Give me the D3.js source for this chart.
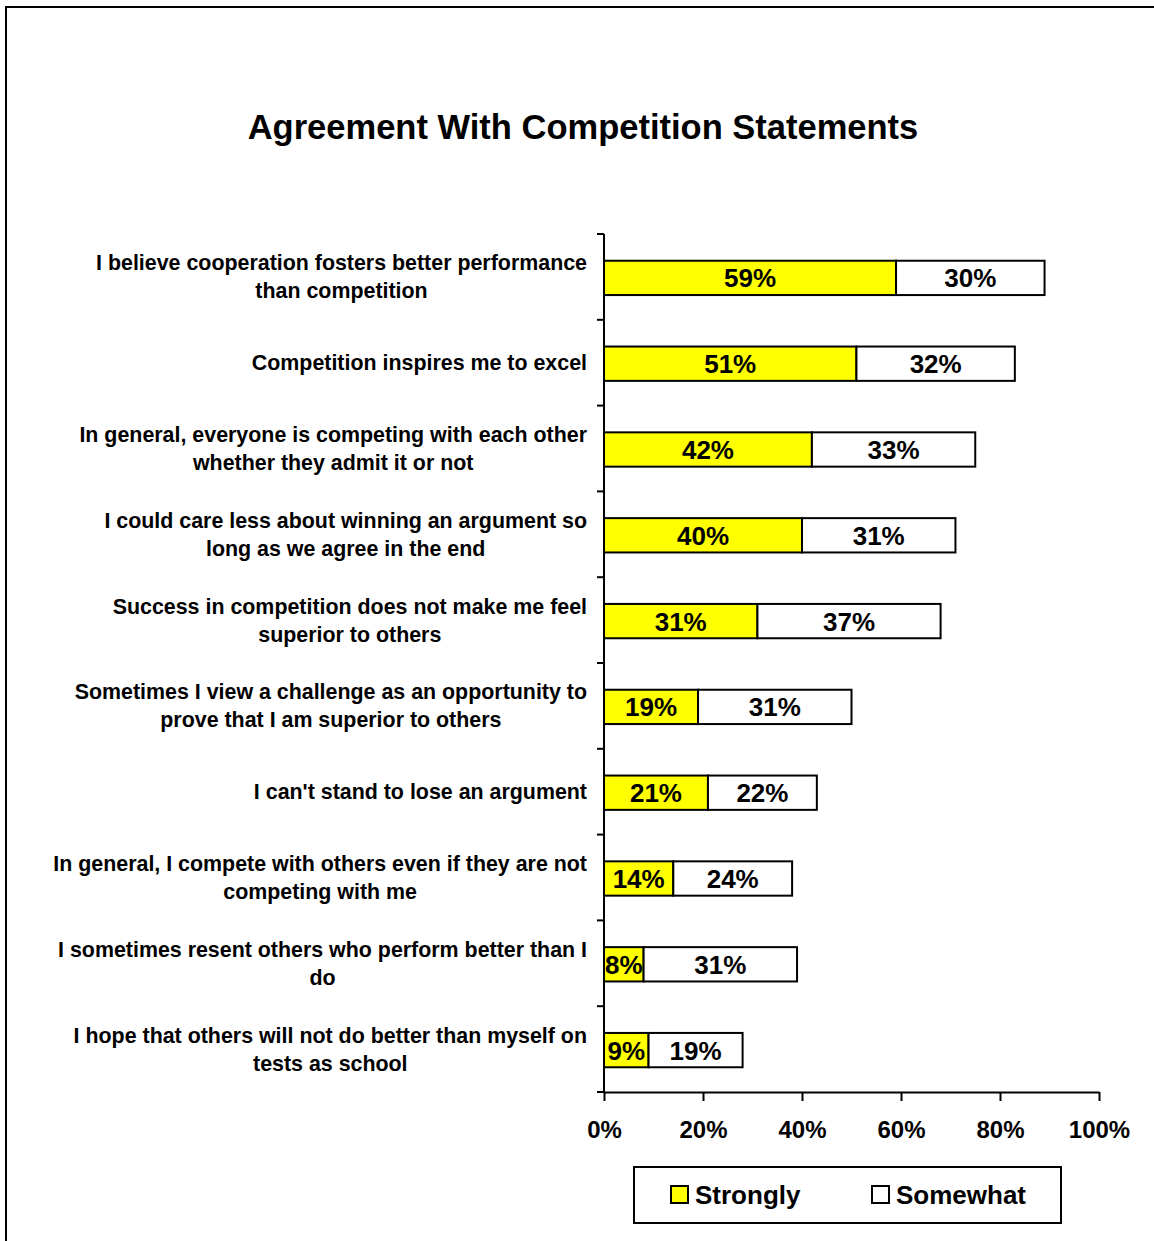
<!DOCTYPE html>
<html>
<head>
<meta charset="utf-8">
<script src="https://cdn.jsdelivr.net/npm/d3@7"></script>
<style>
  html, body { margin: 0; padding: 0; background: #fff; }
  svg { display: block; font-family: "Liberation Sans", Arial, sans-serif; font-weight: bold; }
</style>
</head>
<body>
<svg id="chart" width="1154" height="1241"></svg>
<script>
// Statements (each entry holds the wrapped lines of one label)
const statements = [
  ["I believe cooperation fosters better performance", "than competition"],
  ["Competition inspires me to excel"],
  ["In general, everyone is competing with each other", "whether they admit it or not"],
  ["I could care less about winning an argument so", "long as we agree in the end"],
  ["Success in competition does not make me feel", "superior to others"],
  ["Sometimes I view a challenge as an opportunity to", "prove that I am superior to others"],
  ["I can't stand to lose an argument"],
  ["In general, I compete with others even if they are not", "competing with me"],
  ["I sometimes resent others who perform better than I", "do"],
  ["I hope that others will not do better than myself on", "tests as school"]
];
const strongly = [59, 51, 42, 40, 31, 19, 21, 14, 8, 9];
const somewhat = [30, 32, 33, 31, 37, 31, 22, 24, 31, 19];
const seriesNames = ["Strongly", "Somewhat"];
const seriesColors = ["#ffff00", "#ffffff"];
const xTicks = [0, 20, 40, 60, 80, 100];

const svg = d3.select("#chart");

// outer frame
svg.append("rect")
  .attr("x", 6).attr("y", 7).attr("width", 1170).attr("height", 1260)
  .attr("fill", "none").attr("stroke", "#000").attr("stroke-width", 2);

// title
svg.append("text")
  .attr("x", 583).attr("y", 139)
  .attr("text-anchor", "middle")
  .attr("font-size", 34.5)
  .text("Agreement With Competition Statements");

const plot = { left: 604, right: 1099, top: 234, bottom: 1092 };

const x = d3.scaleLinear().domain([0, 100]).range([plot.left, plot.right]);
const idx = d3.range(statements.length);
const y = d3.scaleBand().domain(idx).range([plot.top, plot.bottom]).paddingInner(0).paddingOuter(0);
const barH = y.bandwidth() * 0.4;

const rows = idx.map(i => ({ i, s: strongly[i], w: somewhat[i] }));

// bars
const g = svg.append("g");
rows.forEach(r => {
  const cy = y(r.i) + y.bandwidth() / 2 + 1;
  const segs = [
    { x0: 0, x1: r.s, fill: seriesColors[0], v: r.s },
    { x0: r.s, x1: r.s + r.w, fill: seriesColors[1], v: r.w }
  ];
  segs.forEach(sg => {
    g.append("rect")
      .attr("x", x(sg.x0)).attr("y", cy - barH / 2)
      .attr("width", x(sg.x1) - x(sg.x0)).attr("height", barH)
      .attr("fill", sg.fill).attr("stroke", "#000").attr("stroke-width", 2);
    g.append("text")
      .attr("x", (x(sg.x0) + x(sg.x1)) / 2).attr("y", cy + 9.5)
      .attr("text-anchor", "middle").attr("font-size", 26)
      .text(sg.v + "%");
  });
});

// category labels: block right-aligned, lines centred within the block
const labelRight = 587;
rows.forEach(r => {
  const lines = statements[r.i];
  const cy = y(r.i) + y.bandwidth() / 2;
  const tg = svg.append("g");
  const texts = lines.map((ln, k) => tg.append("text")
    .attr("font-size", 21.4)
    .attr("y", cy + 7.5 + (k - (lines.length - 1) / 2) * 28)
    .text(ln));
  const maxW = d3.max(texts, t => t.node().getComputedTextLength());
  const cx = labelRight - maxW / 2;
  texts.forEach(t => t.attr("x", cx).attr("text-anchor", "middle"));
});

// y axis with ticks at band boundaries
const axisG = svg.append("g").attr("stroke", "#000").attr("stroke-width", 2);
axisG.append("line")
  .attr("x1", plot.left).attr("x2", plot.left)
  .attr("y1", plot.top).attr("y2", plot.bottom);
const bounds = idx.map(i => y(i)).concat([plot.bottom]);
bounds.forEach(b => {
  axisG.append("line")
    .attr("x1", plot.left - 7).attr("x2", plot.left)
    .attr("y1", b).attr("y2", b);
});

// x axis
const xAxis = d3.axisBottom(x)
  .tickValues(xTicks)
  .tickFormat(d => d + "%")
  .tickSizeInner(9).tickSizeOuter(0).tickPadding(20);
const xg = svg.append("g")
  .attr("transform", `translate(0,${plot.bottom})`)
  .call(xAxis);
xg.select(".domain").attr("stroke", "#000").attr("stroke-width", 2);
xg.selectAll(".tick line").attr("stroke", "#000").attr("stroke-width", 2);
xg.selectAll(".tick text")
  .attr("font-size", 24).attr("font-family", "Liberation Sans, Arial, sans-serif")
  .attr("font-weight", "bold").attr("fill", "#000");

// legend
const lg = svg.append("g");
lg.append("rect")
  .attr("x", 634).attr("y", 1167).attr("width", 427).attr("height", 56)
  .attr("fill", "#fff").attr("stroke", "#000").attr("stroke-width", 2);
const legendX = [671, 872];
seriesNames.forEach((name, k) => {
  lg.append("rect")
    .attr("x", legendX[k]).attr("y", 1186).attr("width", 17).attr("height", 17)
    .attr("fill", seriesColors[k]).attr("stroke", "#000").attr("stroke-width", 2);
  lg.append("text")
    .attr("x", legendX[k] + 24).attr("y", 1204)
    .attr("font-size", 26)
    .text(name);
});
</script>
</body>
</html>
